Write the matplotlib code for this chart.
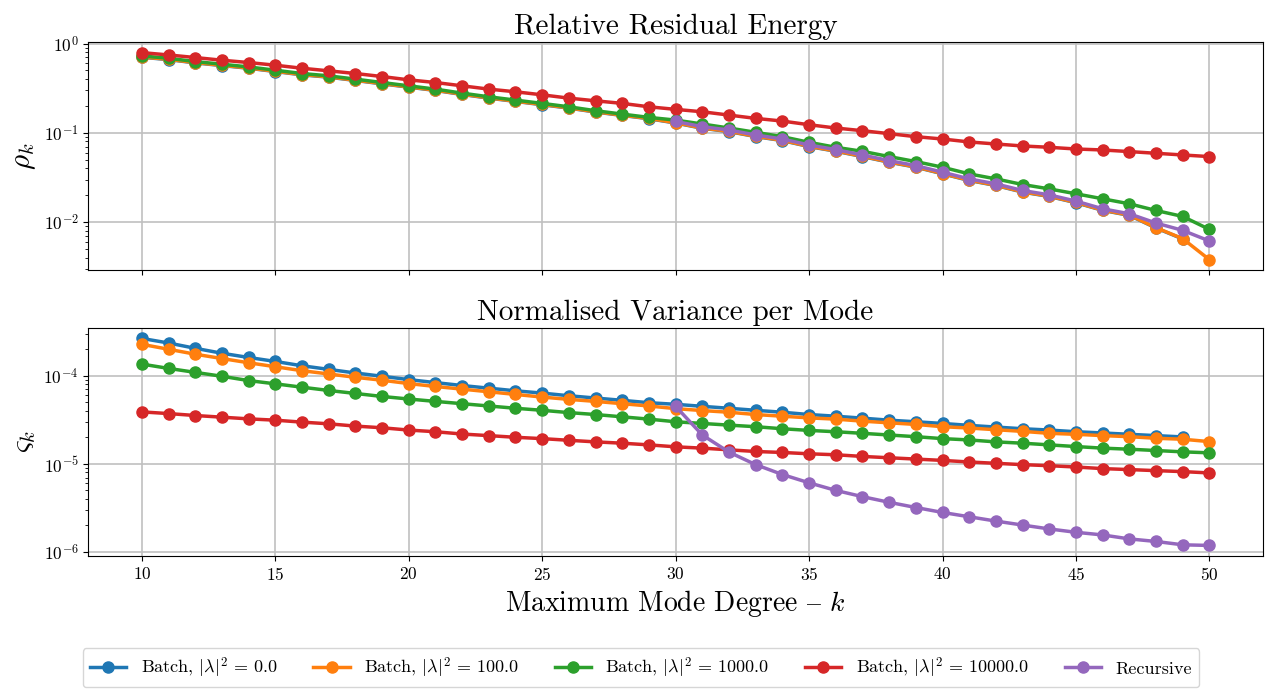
import numpy as np
import matplotlib
matplotlib.use("Agg")
import matplotlib.pyplot as plt

# mode degree
K = list(range(10, 51))
K_BLUE = list(range(10, 50))

# log10 of relative residual energy
RHO_BLUE = [-0.153, -0.179, -0.216, -0.246, -0.276, -0.313, -0.350, -0.376, -0.413, -0.451,
            -0.488, -0.525, -0.570, -0.611, -0.648, -0.685, -0.723, -0.767, -0.805, -0.842,
            -0.890, -0.949, -0.986, -1.042, -1.087, -1.154, -1.206, -1.266, -1.329, -1.385,
            -1.459, -1.534, -1.590, -1.664, -1.713, -1.783, -1.869, -1.925, -2.066, -2.189]
RHO_ORANGE = [-0.150, -0.176, -0.213, -0.243, -0.273, -0.310, -0.347, -0.373, -0.410, -0.448,
              -0.485, -0.522, -0.567, -0.608, -0.645, -0.682, -0.720, -0.764, -0.802, -0.839,
              -0.887, -0.946, -0.983, -1.039, -1.084, -1.151, -1.203, -1.263, -1.326, -1.382,
              -1.456, -1.531, -1.587, -1.661, -1.710, -1.780, -1.866, -1.922, -2.063, -2.186,
              -2.421]
RHO_GREEN = [-0.138, -0.164, -0.201, -0.231, -0.261, -0.298, -0.335, -0.361, -0.398, -0.436,
             -0.473, -0.510, -0.555, -0.596, -0.633, -0.670, -0.708, -0.752, -0.790, -0.827,
             -0.857, -0.901, -0.946, -0.994, -1.043, -1.106, -1.162, -1.207, -1.266, -1.322,
             -1.385, -1.460, -1.516, -1.579, -1.628, -1.683, -1.739, -1.795, -1.870, -1.937,
             -2.082]
RHO_RED = [-0.101, -0.127, -0.156, -0.186, -0.212, -0.242, -0.276, -0.305, -0.335, -0.369,
           -0.406, -0.436, -0.473, -0.510, -0.540, -0.574, -0.611, -0.641, -0.670, -0.708,
           -0.737, -0.764, -0.801, -0.838, -0.868, -0.909, -0.946, -0.976, -1.009, -1.043,
           -1.069, -1.102, -1.125, -1.147, -1.162, -1.181, -1.192, -1.210, -1.229, -1.248,
           -1.266]
K_REC = list(range(30, 51))
RHO_REC = [-0.872, -0.931, -0.968, -1.024, -1.069, -1.136, -1.188, -1.248, -1.311, -1.367,
           -1.441, -1.516, -1.572, -1.646, -1.695, -1.765, -1.851, -1.907, -2.011, -2.093,
           -2.212]

# log10 of normalised variance per mode
VAR_BLUE = [-3.578, -3.630, -3.690, -3.746, -3.794, -3.839, -3.888, -3.929, -3.970, -4.007,
            -4.045, -4.079, -4.112, -4.142, -4.172, -4.198, -4.228, -4.254, -4.280, -4.307,
            -4.325, -4.348, -4.370, -4.393, -4.415, -4.441, -4.460, -4.482, -4.505, -4.523,
            -4.542, -4.564, -4.583, -4.602, -4.617, -4.636, -4.650, -4.665, -4.680, -4.695]
VAR_ORANGE = [-3.645, -3.701, -3.757, -3.806, -3.854, -3.899, -3.944, -3.981, -4.019, -4.052,
              -4.090, -4.123, -4.153, -4.183, -4.213, -4.243, -4.269, -4.292, -4.318, -4.344,
              -4.374, -4.396, -4.415, -4.441, -4.460, -4.479, -4.493, -4.516, -4.535, -4.553,
              -4.579, -4.594, -4.613, -4.632, -4.654, -4.665, -4.680, -4.692, -4.710, -4.721,
              -4.748]
VAR_GREEN = [-3.869, -3.918, -3.963, -4.007, -4.056, -4.093, -4.131, -4.168, -4.202, -4.236,
             -4.265, -4.292, -4.318, -4.344, -4.370, -4.393, -4.419, -4.441, -4.467, -4.493,
             -4.523, -4.542, -4.561, -4.579, -4.602, -4.621, -4.636, -4.654, -4.673, -4.692,
             -4.714, -4.729, -4.751, -4.766, -4.785, -4.804, -4.822, -4.834, -4.849, -4.864,
             -4.875]
VAR_RED = [-4.411, -4.430, -4.452, -4.471, -4.490, -4.505, -4.527, -4.546, -4.572, -4.591,
           -4.617, -4.636, -4.662, -4.680, -4.699, -4.714, -4.733, -4.751, -4.766, -4.785,
           -4.807, -4.822, -4.841, -4.860, -4.871, -4.886, -4.897, -4.916, -4.931, -4.946,
           -4.961, -4.979, -4.994, -5.009, -5.021, -5.036, -5.054, -5.065, -5.077, -5.088,
           -5.103]
VAR_REC = [-4.348, -4.673, -4.867, -5.009, -5.121, -5.215, -5.301, -5.372, -5.436, -5.495,
           -5.551, -5.600, -5.649, -5.694, -5.738, -5.776, -5.806, -5.851, -5.880, -5.918,
           -5.925]

LABELS = [r"Batch, $|\lambda|^2 \,=\, 0.0$", r"Batch, $|\lambda|^2 \,=\, 100.0$",
          r"Batch, $|\lambda|^2 \,=\, 1000.0$", r"Batch, $|\lambda|^2 \,=\, 10000.0$", "Recursive"]
COLORS = ["tab:blue", "tab:orange", "tab:green", "tab:red", "tab:purple"]

plt.rcParams["font.family"] = ["cmr10", "DejaVu Serif"]
plt.rcParams["mathtext.fontset"] = "cm"
plt.rcParams["axes.formatter.use_mathtext"] = True
plt.rcParams["axes.unicode_minus"] = False


def pow10(vals):
    return 10.0 ** np.array(vals)


fig, (ax1, ax2) = plt.subplots(2, 1, figsize=(12.82, 6.93), dpi=100, sharex=True)
fig.subplots_adjust(left=0.069, right=0.985, top=0.939, bottom=0.198, hspace=0.255)

xs = [K_BLUE, K, K, K, K_REC]
top_series = [RHO_BLUE, RHO_ORANGE, RHO_GREEN, RHO_RED, RHO_REC]
bot_series = [VAR_BLUE, VAR_ORANGE, VAR_GREEN, VAR_RED, VAR_REC]

for x, y, c, lab in zip(xs, top_series, COLORS, LABELS):
    ax1.plot(x, pow10(y), marker="o", markersize=8, linewidth=2.5, color=c, label=lab)
for x, y, c in zip(xs, bot_series, COLORS):
    ax2.plot(x, pow10(y), marker="o", markersize=8, linewidth=2.5, color=c)

for ax in (ax1, ax2):
    ax.set_yscale("log")
    ax.grid(True, which="major", color="#c0c0c0", linewidth=1.2)
    ax.tick_params(labelsize=12.5)

ax1.set_title("Relative Residual Energy", fontsize=21)
ax2.set_title("Normalised Variance per Mode", fontsize=21)
ax1.set_ylabel(r"$\rho_k$", fontsize=21)
ax2.set_ylabel(r"$\varsigma_k$", fontsize=21)
ax2.set_xlabel("Maximum Mode Degree $\\mathrm{\u2013}$ $k$", fontsize=20)
ax2.set_xticks([10, 15, 20, 25, 30, 35, 40, 45, 50])

handles, labels = ax1.get_legend_handles_labels()
fig.legend(handles, labels, loc="lower center", ncol=5, fontsize=13,
           bbox_to_anchor=(0.5, -0.005), handlelength=2.0, columnspacing=2.0)

fig.savefig("out.png", dpi=100)
